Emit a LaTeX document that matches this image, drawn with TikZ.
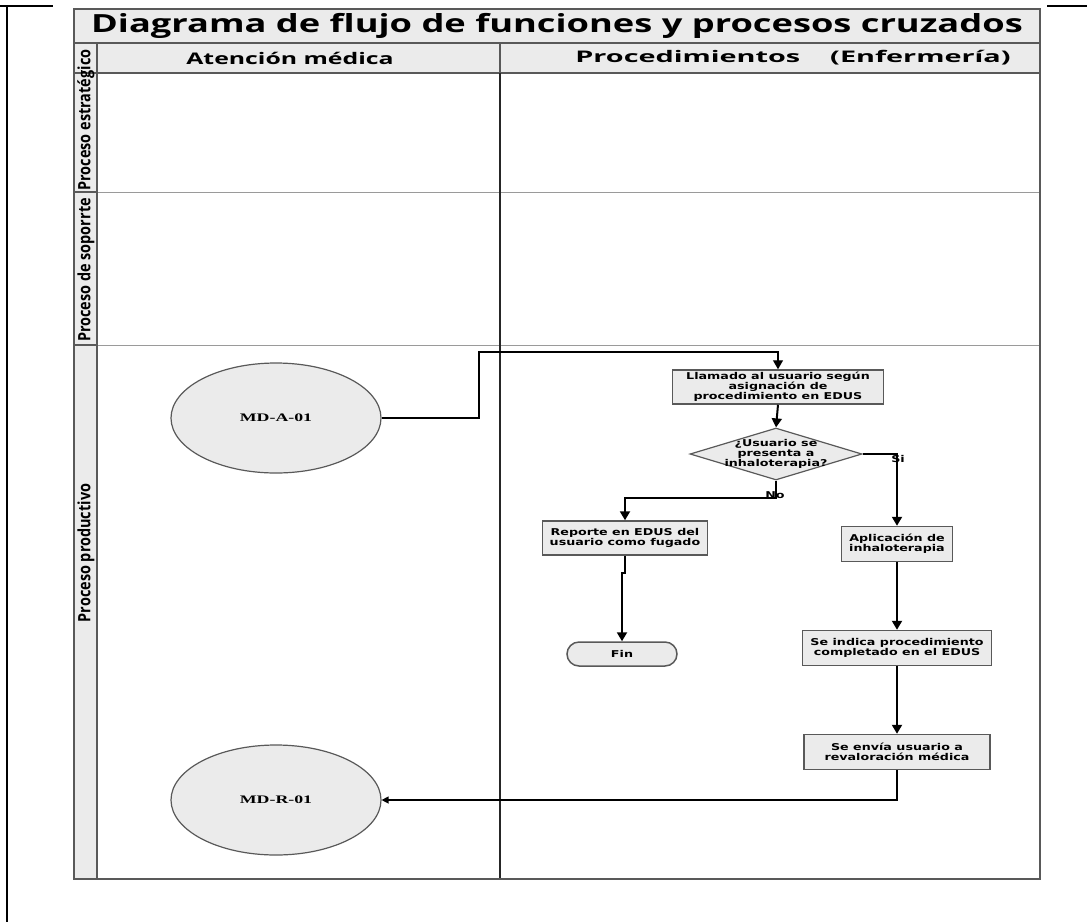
\documentclass[tikz,border=0pt]{standalone}
\usepackage{fontspec}
\setmainfont{Open Sans}
\newfontfamily\titlefont{Open Sans}[FakeStretch=1.45]
\newfontfamily\headfont{Open Sans}[FakeStretch=1.55]
\newfontfamily\headwidefont{Open Sans}[FakeStretch=1.8]
\newfontfamily\lanefont{Open Sans}[FakeStretch=0.85]
\newfontfamily\boxfont{DejaVu Sans}[FakeStretch=1.35]
\newfontfamily\ovalfont{Liberation Serif}[FakeStretch=1.55]
\usetikzlibrary{shapes.geometric,arrows.meta}
\definecolor{cellgray}{HTML}{EBEBEB}
\definecolor{linegray}{HTML}{595959}
\definecolor{lanegray}{HTML}{9A9A9A}
\tikzset{
  boxtext/.style={font=\boxfont\bfseries\fontsize{9.4}{9.8}\selectfont},
  proc/.style={boxtext,draw=linegray,line width=1.5pt,fill=cellgray,minimum height=35pt,inner sep=0pt,align=center},
  decision/.style={diamond,draw=linegray,line width=1.2pt,fill=cellgray,minimum width=172pt,minimum height=52pt,inner sep=0pt},
  terminal/.style={boxtext,draw=linegray,line width=1.5pt,fill=cellgray,rounded corners=12pt,minimum width=110pt,minimum height=24pt,inner sep=0pt},
  oval/.style={ellipse,draw=linegray,line width=1.2pt,fill=cellgray,minimum width=210pt,minimum height=110pt,inner sep=0pt,font=\ovalfont\bfseries\fontsize{11.5}{13}\selectfont},
  lanelabel/.style={rotate=90,font=\lanefont\bfseries\fontsize{17}{18}\selectfont},
  flow/.style={line width=2pt,-{Triangle[length=9pt,width=10pt]}},
  link/.style={line width=1.3pt},
}
\begin{document}
\begin{tikzpicture}[x=1pt,y=-1pt]
\useasboundingbox (0,0) rectangle (1087,922);
% borde de la celda
\draw[line width=2.5pt] (0,6) -- (53,6);
\draw[line width=2.5pt] (1047,6) -- (1087,6);
\draw[line width=2.5pt] (7,6) -- (7,922);
% cuadricula de carriles
\fill[cellgray] (74,9) rectangle (1040,73);
\fill[cellgray] (74,73) rectangle (97,879);
\draw[lanegray,line width=1pt] (97,192) -- (1040,192);
\draw[lanegray,line width=1pt] (97,345) -- (1040,345);
\draw[linegray,line width=1.5pt] (74,43) -- (1040,43);
\draw[linegray,line width=1.5pt] (74,73) -- (1040,73);
\draw[linegray,line width=1.5pt] (74,192) -- (97,192);
\draw[linegray,line width=1.5pt] (74,345) -- (97,345);
\draw[linegray,line width=1.5pt] (97,43) -- (97,879);
\draw[linegray,line width=1.5pt] (500,43) -- (500,73);
\draw[line width=1.8pt,black!85] (500,73) -- (500,879);
\draw[linegray,line width=2pt] (74,9) rectangle (1040,879);
% textos de cabecera
\node (titulo) at (557,26) {\titlefont\bfseries\fontsize{25}{27}\selectfont Diagrama de flujo de funciones y procesos cruzados};
\node (colA) at (290,58) {\headfont\bfseries\fontsize{16}{17}\selectfont Atención médica};
\node (colB) at (793,58) {\headwidefont\bfseries\fontsize{16}{17}\selectfont Procedimientos\hspace{30pt}(Enfermería)};
\node (laneE) at (86,120) [lanelabel] {Proceso estratégico};
\node (laneS) at (86,270) [lanelabel] {Proceso de soporrte};
\node (laneP) at (86,553) [lanelabel] {Proceso productivo};
% nodos del flujo
\node (mdA) at (276,418) [oval] {MD-A-01};
\node (mdR) at (276,800) [oval] {MD-R-01};
\node (llamado) at (778,387) [proc,minimum width=211pt,minimum height=34pt] {Llamado al usuario según\\asignación de\\procedimiento en EDUS};
\node (pregunta) at (776,454) [decision] {};
\node (preguntaTxt) at (pregunta) [boxtext,align=center] {¿Usuario se\\presenta a\\inhaloterapia?};
\node (reporte) at (625,538) [proc,minimum width=165pt,minimum height=34pt] {Reporte en EDUS del\\usuario como fugado};
\node (fin) at (622,654) [terminal] {Fin};
\node (aplicacion) at (897,544) [proc,minimum width=111pt] {Aplicación de\\inhaloterapia};
\node (indica) at (897,648) [proc,minimum width=189pt] {Se indica procedimiento\\completado en el EDUS};
\node (envia) at (897,752) [proc,minimum width=186pt] {Se envía usuario a\\revaloración médica};
\coordinate (codoA) at (479,352);
\coordinate (codoNo) at (776,498);
% conectores
\draw[link,-{Triangle[length=9pt,width=10pt]}] (mdA.east) -| (codoA) -| (llamado.north);
\draw[flow] (llamado.south) -- (pregunta.north);
\draw[flow] (pregunta.east) -| (aplicacion.north);
\draw[flow] (pregunta.south) -- (codoNo) -| (reporte.north);
\draw[flow] (reporte.south) -- ++(0,17) -| (fin.north);
\draw[flow] (aplicacion.south) -- (indica.north);
\draw[flow] (indica.south) -- (envia.north);
\draw[link,-{Triangle[length=7pt,width=7pt]}] (envia.south) |- (mdR.east);
\node (si) at (898,459) [boxtext] {Si};
\node (no) at (775,495) [boxtext] {No};
\end{tikzpicture}
\end{document}
